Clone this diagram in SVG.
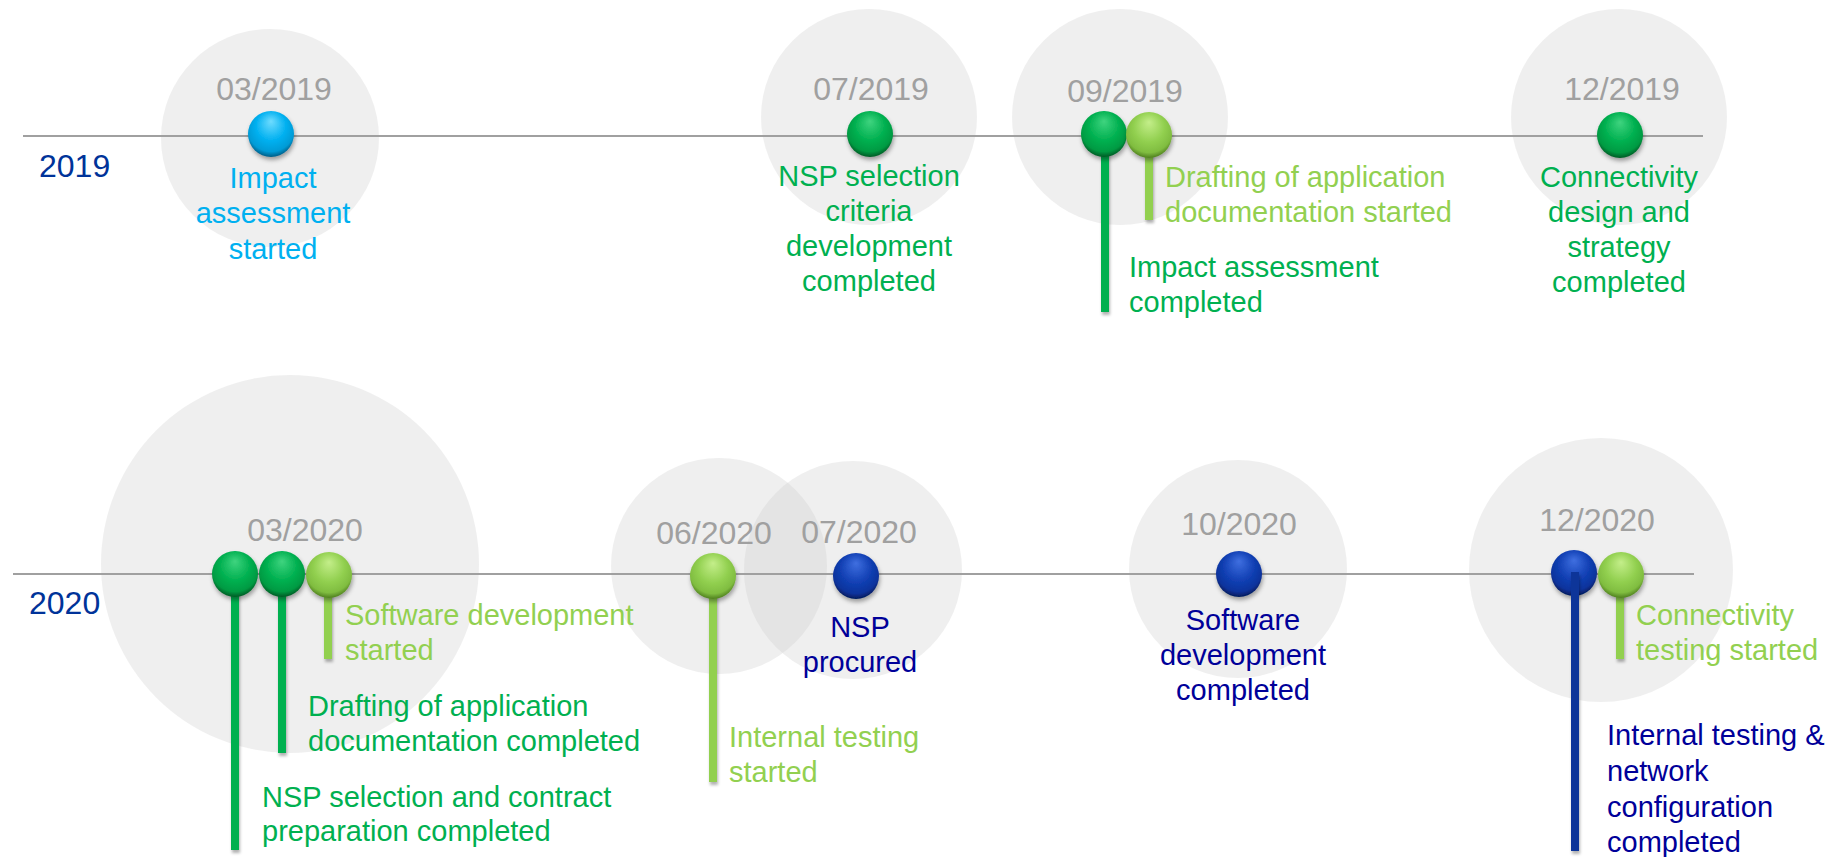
<svg xmlns="http://www.w3.org/2000/svg" width="1837" height="857" viewBox="0 0 1837 857">
<defs>
<radialGradient id="gDG" cx="50%" cy="40%" r="60%" fx="50%" fy="22%">
<stop offset="0" stop-color="#3fd47f"/><stop offset="0.55" stop-color="#00b050"/><stop offset="0.85" stop-color="#009a42"/><stop offset="1" stop-color="#005a25"/>
</radialGradient>
<radialGradient id="gLG" cx="50%" cy="40%" r="60%" fx="50%" fy="22%">
<stop offset="0" stop-color="#c4ee8a"/><stop offset="0.55" stop-color="#92d050"/><stop offset="0.85" stop-color="#80bd40"/><stop offset="1" stop-color="#4f7f1f"/>
</radialGradient>
<radialGradient id="gLB" cx="50%" cy="40%" r="60%" fx="50%" fy="22%">
<stop offset="0" stop-color="#6fdcff"/><stop offset="0.55" stop-color="#00b0f0"/><stop offset="0.85" stop-color="#009bd6"/><stop offset="1" stop-color="#005c85"/>
</radialGradient>
<radialGradient id="gNB" cx="50%" cy="40%" r="60%" fx="50%" fy="22%">
<stop offset="0" stop-color="#3f6fe0"/><stop offset="0.55" stop-color="#1240b4"/><stop offset="0.85" stop-color="#0c339c"/><stop offset="1" stop-color="#041a5a"/>
</radialGradient>
<filter id="sh" x="-50%" y="-50%" width="200%" height="200%">
<feDropShadow dx="1" dy="3" stdDeviation="2" flood-color="#000" flood-opacity="0.35"/>
</filter>
<filter id="shs" x="-100%" y="-10%" width="300%" height="120%">
<feDropShadow dx="1" dy="3" stdDeviation="1.5" flood-color="#000" flood-opacity="0.3"/>
</filter>
</defs>
<style>
.halo{fill:#cbcbcb;fill-opacity:0.31}
.axis{stroke:#a0a0a0;stroke-width:2;fill:none}
.date{font-family:"Liberation Sans",Arial,sans-serif;font-size:32px;fill:#a0a0a0;text-anchor:middle}
.year{font-family:"Liberation Sans",Arial,sans-serif;font-size:32px;fill:#003399}
.t{font-family:"Liberation Sans",Arial,sans-serif;font-size:29px}
.c{text-anchor:middle}
.dg{fill:#00b050}.lg{fill:#92d050}.lb{fill:#00b0f0}.nb{fill:#000099}
.stem{filter:url(#shs)}
.sdg{fill:#00b050}.slg{fill:#92d050}.snb{fill:#0a3599}
.bead{filter:url(#sh)}
</style>
<rect width="1837" height="857" fill="#ffffff"/>

<g id="halos">
<circle class="halo" cx="270" cy="138" r="109"/>
<circle class="halo" cx="869" cy="117" r="108"/>
<circle class="halo" cx="1120" cy="117" r="108"/>
<circle class="halo" cx="1619" cy="117" r="108"/>
<circle class="halo" cx="290" cy="564" r="189"/>
<circle class="halo" cx="719" cy="566" r="108"/>
<circle class="halo" cx="853" cy="570" r="109"/>
<circle class="halo" cx="1238" cy="569" r="109"/>
<circle class="halo" cx="1601" cy="570" r="132"/>
</g>

<g id="connectors">
<line class="axis" x1="23" y1="136" x2="1703" y2="136"/>
<line class="axis" x1="13" y1="574" x2="1694" y2="574"/>
<rect class="stem sdg" x="1101" y="140" width="8" height="172"/>
<rect class="stem slg" x="1145" y="140" width="8" height="80"/>
<rect class="stem sdg" x="231" y="578" width="8" height="272"/>
<rect class="stem sdg" x="278" y="578" width="8" height="175"/>
<rect class="stem slg" x="324" y="578" width="8" height="81"/>
<rect class="stem slg" x="709" y="580" width="8" height="202"/>
<rect class="stem slg" x="1616" y="578" width="8" height="81"/>
</g>

<g id="year2019"><text class="year" x="39" y="177">2019</text></g>
<g id="year2020"><text class="year" x="29" y="614">2020</text></g>

<g id="m-2019-03">
<text class="date" x="274" y="100">03/2019</text>
<circle class="bead" cx="271" cy="134" r="23" fill="url(#gLB)"/>
<text class="t c lb" x="273" y="188">Impact</text>
<text class="t c lb" x="273" y="223">assessment</text>
<text class="t c lb" x="273" y="259">started</text>
</g>

<g id="m-2019-07">
<text class="date" x="871" y="100">07/2019</text>
<circle class="bead" cx="870" cy="134" r="23" fill="url(#gDG)"/>
<text class="t c dg" x="869" y="186">NSP selection</text>
<text class="t c dg" x="869" y="221">criteria</text>
<text class="t c dg" x="869" y="256">development</text>
<text class="t c dg" x="869" y="291">completed</text>
</g>

<g id="m-2019-09">
<text class="date" x="1125" y="102">09/2019</text>
<circle class="bead" cx="1104" cy="134" r="23" fill="url(#gDG)"/>
<circle class="bead" cx="1149" cy="135" r="23" fill="url(#gLG)"/>
<text class="t lg" x="1165" y="187">Drafting of application</text>
<text class="t lg" x="1165" y="222">documentation started</text>
<text class="t dg" x="1129" y="277">Impact assessment</text>
<text class="t dg" x="1129" y="312">completed</text>
</g>

<g id="m-2019-12">
<text class="date" x="1622" y="100">12/2019</text>
<circle class="bead" cx="1620" cy="135" r="23" fill="url(#gDG)"/>
<text class="t c dg" x="1619" y="187">Connectivity</text>
<text class="t c dg" x="1619" y="222">design and</text>
<text class="t c dg" x="1619" y="257">strategy</text>
<text class="t c dg" x="1619" y="292">completed</text>
</g>

<g id="m-2020-03">
<text class="date" x="305" y="541">03/2020</text>
<circle class="bead" cx="235" cy="574" r="23" fill="url(#gDG)"/>
<circle class="bead" cx="282" cy="574" r="23" fill="url(#gDG)"/>
<circle class="bead" cx="329" cy="575" r="23" fill="url(#gLG)"/>
<text class="t lg" x="345" y="625">Software development</text>
<text class="t lg" x="345" y="660">started</text>
<text class="t dg" x="308" y="716">Drafting of application</text>
<text class="t dg" x="308" y="751">documentation completed</text>
<text class="t dg" x="262" y="807">NSP selection and contract</text>
<text class="t dg" x="262" y="841">preparation completed</text>
</g>

<g id="m-2020-06">
<text class="date" x="714" y="544">06/2020</text>
<circle class="bead" cx="713" cy="576" r="23" fill="url(#gLG)"/>
<text class="t lg" x="729" y="747">Internal testing</text>
<text class="t lg" x="729" y="782">started</text>
</g>

<g id="m-2020-07">
<text class="date" x="859" y="543">07/2020</text>
<circle class="bead" cx="856" cy="576" r="23" fill="url(#gNB)"/>
<text class="t c nb" x="860" y="637">NSP</text>
<text class="t c nb" x="860" y="672">procured</text>
</g>

<g id="m-2020-10">
<text class="date" x="1239" y="535">10/2020</text>
<circle class="bead" cx="1239" cy="574" r="23" fill="url(#gNB)"/>
<text class="t c nb" x="1243" y="630">Software</text>
<text class="t c nb" x="1243" y="665">development</text>
<text class="t c nb" x="1243" y="700">completed</text>
</g>

<g id="m-2020-12">
<text class="date" x="1597" y="531">12/2020</text>
<circle class="bead" cx="1574" cy="573" r="23" fill="url(#gNB)"/>
<circle class="bead" cx="1621" cy="575" r="23" fill="url(#gLG)"/>
<rect class="stem snb" x="1571" y="572" width="8" height="279"/>
<text class="t lg" x="1636" y="625">Connectivity</text>
<text class="t lg" x="1636" y="660">testing started</text>
<text class="t nb" x="1607" y="745">Internal testing &amp;</text>
<text class="t nb" x="1607" y="781">network</text>
<text class="t nb" x="1607" y="817">configuration</text>
<text class="t nb" x="1607" y="852">completed</text>
</g>
</svg>
